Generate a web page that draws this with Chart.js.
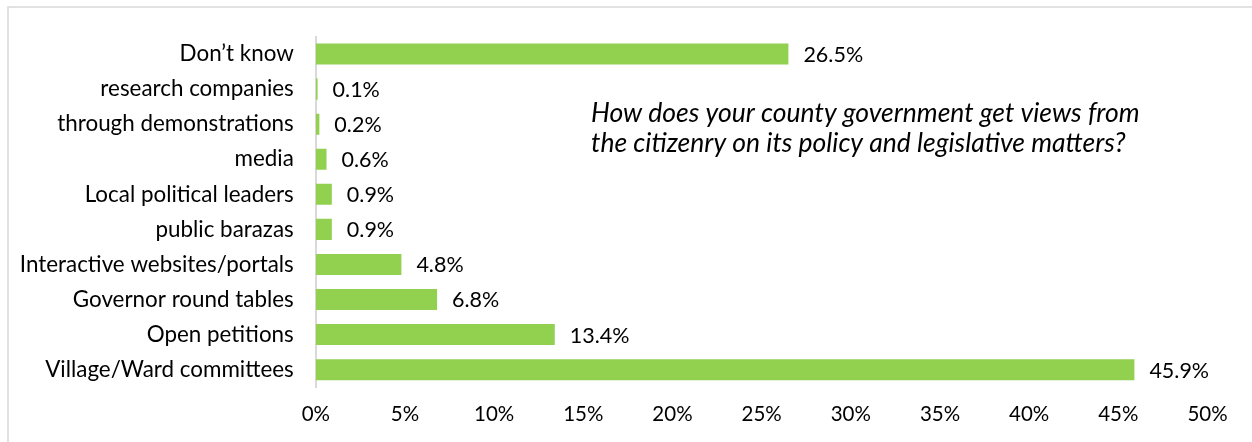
<!DOCTYPE html>
<html>
<head>
<meta charset="utf-8">
<script src="https://cdn.jsdelivr.net/npm/chart.js@4.4.1/dist/chart.umd.min.js"></script>
<style>
  html, body { margin: 0; padding: 0; background: #ffffff; }
  #wrap { position: relative; width: 1252px; height: 442px; }
  canvas { display: block; }
</style>
</head>
<body>
<div id="wrap"><canvas id="chart" width="1252" height="442"></canvas></div>
<script>
// Survey answers, listed top to bottom
const categories = [
  'Don\u2019t know',
  'research companies',
  'through demonstrations',
  'media',
  'Local political leaders',
  'public barazas',
  'Interactive websites/portals',
  'Governor round tables',
  'Open petitions',
  'Village/Ward committees'
];
// Share of respondents (%)
const shares = [26.5, 0.1, 0.2, 0.6, 0.9, 0.9, 4.8, 6.8, 13.4, 45.9];
// Percent axis ticks
const axisTicks = [0, 5, 10, 15, 20, 25, 30, 35, 40, 45, 50];
const questionLines = [
  'How does your county government get views from',
  'the citizenry on its policy and legislative matters?'
];

const FONT = 'Lato, "Open Sans", "DejaVu Sans", sans-serif';
const BAR_GREEN = '#92D050';

// Light frame around the whole figure
const framePlugin = {
  id: 'frame',
  beforeDraw(chart) {
    const ctx = chart.ctx;
    ctx.save();
    ctx.strokeStyle = '#d9d9d9';
    ctx.lineWidth = 1.5;
    ctx.strokeRect(8, 7, chart.width + 20, chart.height + 20);
    ctx.restore();
  }
};

// Percent label to the right of each bar
const valueLabels = {
  id: 'valueLabels',
  afterDatasetsDraw(chart) {
    const ctx = chart.ctx;
    const meta = chart.getDatasetMeta(0);
    ctx.save();
    ctx.font = '21.5px ' + FONT;
    ctx.fillStyle = '#000000';
    ctx.textAlign = 'left';
    ctx.textBaseline = 'middle';
    meta.data.forEach((bar, i) => {
      ctx.fillText(shares[i].toFixed(1) + '%', bar.x + 15, bar.y + 1);
    });
    ctx.restore();
  }
};

// Survey question, set inside the plot area
const questionText = {
  id: 'questionText',
  afterDraw(chart) {
    const ctx = chart.ctx;
    ctx.save();
    ctx.font = 'italic 26.5px ' + FONT;
    ctx.fillStyle = '#000000';
    ctx.textAlign = 'left';
    ctx.textBaseline = 'middle';
    questionLines.forEach((line, i) => {
      ctx.fillText(line, 591, 113 + i * 30);
    });
    ctx.restore();
  }
};

new Chart(document.getElementById('chart'), {
  type: 'bar',
  data: {
    labels: categories,
    datasets: [{
      data: shares,
      backgroundColor: BAR_GREEN,
      borderWidth: 0,
      barPercentage: 0.6,
      categoryPercentage: 1.0
    }]
  },
  options: {
    indexAxis: 'y',
    responsive: false,
    animation: false,
    devicePixelRatio: 1,
    layout: { padding: { top: 36.5, right: 44.5, bottom: 0, left: 0 } },
    plugins: {
      legend: { display: false },
      tooltip: { enabled: false },
      title: { display: false }
    },
    scales: {
      x: {
        min: 0,
        max: 50,
        afterBuildTicks(scale) {
          scale.ticks = axisTicks.map(v => ({ value: v }));
        },
        afterFit(scale) { scale.height = 54.8; },
        grid: { display: false, drawTicks: false },
        border: { display: false },
        ticks: {
          padding: 15,
          color: '#000000',
          font: { family: FONT, size: 20.5 },
          maxRotation: 0,
          callback: v => v + '%'
        }
      },
      y: {
        afterFit(scale) { scale.width = 315.8; },
        grid: { display: false, drawTicks: false },
        border: { display: true, color: '#d9d9d9', width: 2 },
        ticks: {
          padding: 22,
          color: '#000000',
          font: { family: FONT, size: 22.4 }
        }
      }
    }
  },
  plugins: [framePlugin, valueLabels, questionText]
});
</script>
</body>
</html>
